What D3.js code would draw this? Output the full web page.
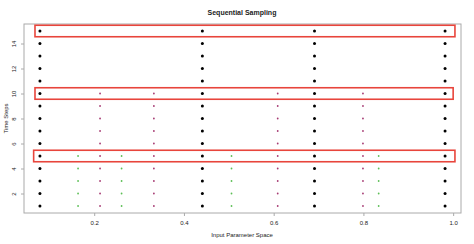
<!DOCTYPE html>
<html>
<head>
<meta charset="utf-8">
<script src="https://cdn.jsdelivr.net/npm/d3@7"></script>
<style>
  body { margin: 0; background: #fff; }
  text { font-family: "Liberation Sans", Arial, sans-serif; fill: #222; }
</style>
</head>
<body>
<svg id="chart" width="474" height="244"></svg>
<script>
// Sample locations in input space, one group per refinement stage
const blackX = [0.079, 0.441, 0.691, 0.982];
const purpleX = [0.213, 0.333, 0.609, 0.799];
const greenX = [0.164, 0.261, 0.506, 0.834];

// Time steps each group is present for
const blackSteps = d3.range(1, 16);
const purpleSteps = d3.range(1, 11);
const greenSteps = d3.range(1, 6);

// Highlighted time steps
const highlightSteps = [5, 10, 15];

const xTicks = [0.2, 0.4, 0.6, 0.8, 1.0];
const yTicks = [2, 4, 6, 8, 10, 12, 14];

// Layout
let margin = { top: 24, left: 24, right: 13, bottom: 31 },
    width = 474 - margin.left - margin.right,
    height = 244 - margin.top - margin.bottom;

let svg = d3.select("#chart");

// Scales (box is padded like R's default 4% extension)
let x = d3.scaleLinear().domain([0.0435, 1.0175]).range([margin.left, margin.left + width]);
let y = d3.scaleLinear().domain([0.44, 15.56]).range([margin.top + height, margin.top]);

// Plot box
svg.append("rect")
  .attr("x", margin.left).attr("y", margin.top)
  .attr("width", width).attr("height", height)
  .attr("fill", "none").attr("stroke", "#aaa").attr("stroke-width", 1);

// x axis
let xAxis = svg.append("g")
  .attr("transform", "translate(0," + (margin.top + height) + ")")
  .call(d3.axisBottom(x).tickValues(xTicks).tickSize(3).tickPadding(5).tickFormat(d3.format(".1f")));
xAxis.select(".domain").remove();
xAxis.selectAll("line").attr("stroke", "#aaa");
xAxis.selectAll("text").style("font-size", "6px").attr("fill", "#333");

// y axis, labels rotated like R
let yAxis = svg.append("g")
  .attr("transform", "translate(" + margin.left + ",0)")
  .call(d3.axisLeft(y).tickValues(yTicks).tickSize(3).tickPadding(0));
yAxis.select(".domain").remove();
yAxis.selectAll("line").attr("stroke", "#aaa");
yAxis.selectAll("text")
  .style("font-size", "6px").attr("fill", "#333")
  .attr("x", 0).attr("dy", 0)
  .attr("text-anchor", "middle")
  .attr("transform", "translate(-8,0) rotate(-90)");

// Draws one group of points at each of its time steps
function drawGroup(xs, steps, color, r) {
  let pts = [];
  steps.forEach(t => xs.forEach(v => pts.push([v, t])));
  svg.append("g").selectAll("circle")
    .data(pts).enter().append("circle")
    .attr("cx", d => x(d[0]))
    .attr("cy", d => y(d[1]))
    .attr("r", r)
    .attr("fill", color);
}

drawGroup(blackX, blackSteps, "#000", 1.5);
drawGroup(purpleX, purpleSteps, "#a63a72", 0.9);
drawGroup(greenX, greenSteps, "#5cbf55", 0.9);

// Highlight rectangles
svg.append("g").selectAll("rect")
  .data(highlightSteps).enter().append("rect")
  .attr("x", d => x(d === 5 ? 0.065 : 0.068))
  .attr("y", d => y(d + 0.46))
  .attr("width", d => x(d === 10 ? 1.0 : 1.004) - x(d === 5 ? 0.065 : 0.068))
  .attr("height", d => y(d - 0.46) - y(d + 0.46))
  .attr("fill", "none")
  .attr("stroke", "#e8453c")
  .attr("stroke-width", 1.6);

// Title
svg.append("text")
  .attr("x", 242).attr("y", 15)
  .attr("text-anchor", "middle")
  .style("font-size", "7px").style("font-weight", "bold")
  .text("Sequential Sampling");

// Axis labels
svg.append("text")
  .attr("x", 242).attr("y", 237)
  .attr("text-anchor", "middle")
  .style("font-size", "6px")
  .text("Input Parameter Space");

svg.append("text")
  .attr("transform", "translate(8," + (margin.top + height / 2) + ") rotate(-90)")
  .attr("text-anchor", "middle")
  .style("font-size", "6px")
  .text("Time Steps");
</script>
</body>
</html>
